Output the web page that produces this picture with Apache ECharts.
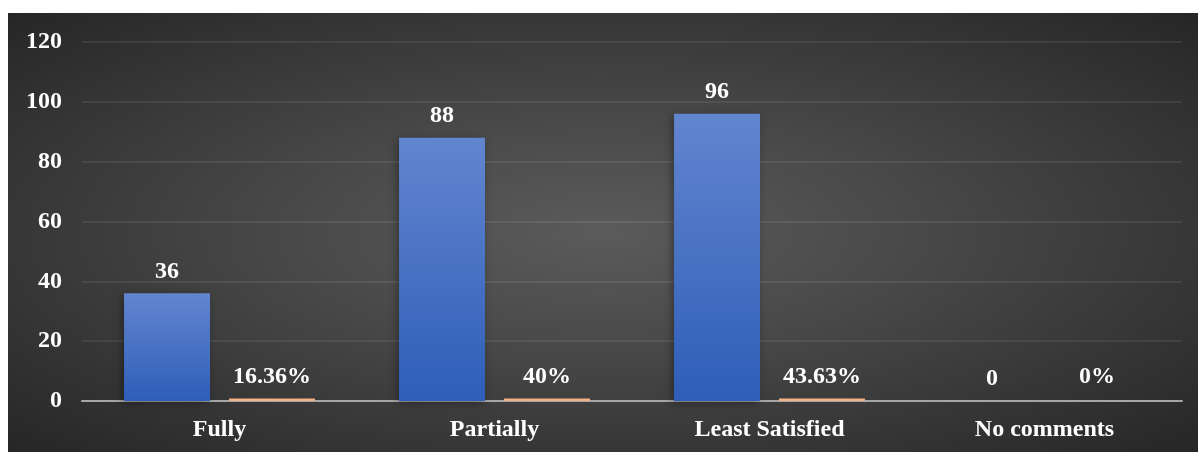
<!DOCTYPE html>
<html>
<head>
<meta charset="utf-8">
<script src="https://cdn.jsdelivr.net/npm/echarts@6/dist/echarts.min.js"></script>
<style>
  html, body { margin: 0; padding: 0; background: #ffffff; }
  #chart {
    position: absolute; left: 8px; top: 13px; width: 1190px; height: 439px;
    background: radial-gradient(ellipse farthest-corner at 50% 50%, #5b5b5b 0%, #4a4a4a 35%, #262626 100%);
  }
</style>
</head>
<body>
<div id="chart"></div>
<script>
// Survey responses by satisfaction level
const categories = ['Fully', 'Partially', 'Least Satisfied', 'No comments'];
const counts = [36, 88, 96, 0];
const shares = [0.1636, 0.40, 0.4363, 0];
const yTicks = [0, 20, 40, 60, 80, 100, 120];

const font = '"Liberation Serif", "Times New Roman", serif';
const labelStyle = {
  color: '#ffffff', fontFamily: font, fontWeight: 'bold', fontSize: 24
};

function pct(v) {
  return parseFloat((v * 100).toFixed(2)) + '%';
}

const chart = echarts.init(document.getElementById('chart'), null, { renderer: 'canvas' });
chart.setOption({
  backgroundColor: 'transparent',
  animation: false,
  grid: { left: 74, right: 16, top: 29, bottom: 51, containLabel: false },
  xAxis: {
    type: 'category',
    data: categories,
    axisTick: { show: false },
    axisLine: { show: true, lineStyle: { color: '#a6a6a6', width: 2 } },
    axisLabel: Object.assign({ margin: 17 }, labelStyle)
  },
  yAxis: {
    type: 'value',
    min: yTicks[0],
    max: yTicks[yTicks.length - 1],
    interval: yTicks[1] - yTicks[0],
    axisLine: { show: false },
    axisTick: { show: false },
    axisLabel: Object.assign({ margin: 20 }, labelStyle),
    splitLine: { lineStyle: { color: 'rgba(255,255,255,0.1)', width: 1.5 } }
  },
  series: [
    {
      type: 'bar',
      data: counts,
      barWidth: 86,
      barGap: '22%',
      itemStyle: {
        color: new echarts.graphic.LinearGradient(0, 0, 0, 1, [
          { offset: 0, color: '#6285cf' },
          { offset: 1, color: '#2e5eb8' }
        ]),
        shadowColor: 'rgba(0,0,0,0.35)',
        shadowBlur: 8,
        shadowOffsetX: -2,
        shadowOffsetY: 2
      },
      label: Object.assign({ show: true, position: 'top', distance: 10 }, labelStyle)
    },
    {
      type: 'bar',
      // a zero share keeps its label but no visible sliver
      data: shares.map(v => v === 0 ? { value: v, itemStyle: { color: 'rgba(0,0,0,0)' } } : v),
      barWidth: 86,
      barMinHeight: 2.5,
      itemStyle: { color: '#f4b183' },
      label: Object.assign({
        show: true, position: 'top', distance: 10,
        formatter: p => pct(p.value)
      }, labelStyle)
    }
  ]
});
</script>
</body>
</html>
